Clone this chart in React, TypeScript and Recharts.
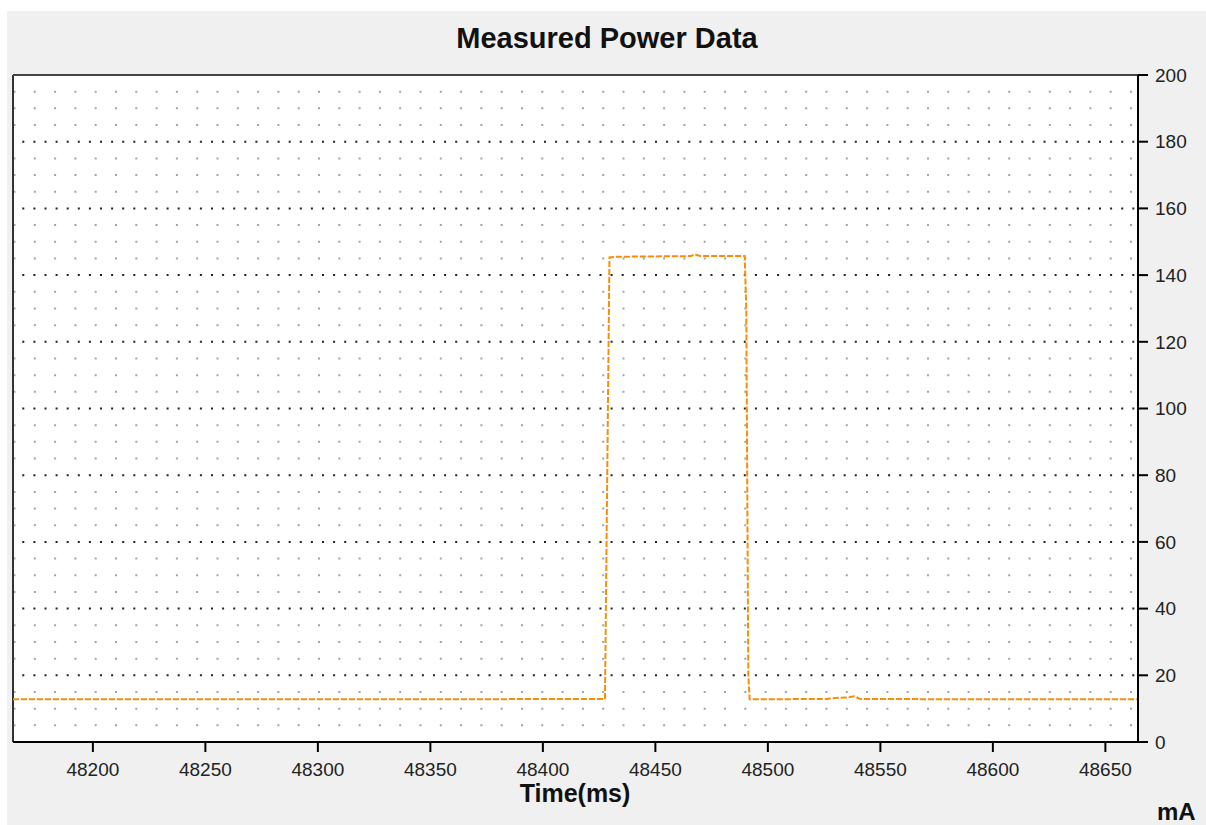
import React from 'react'
import { LineChart, Line, XAxis, YAxis, CartesianGrid, ReferenceLine } from 'recharts'

const times = [48164.5, 48250, 48330, 48427.6, 48428.6, 48429.6, 48433, 48466, 48467, 48470, 48489.7, 48490.4, 48491.3, 48491.9, 48526, 48530, 48536, 48538.5, 48541, 48600, 48664.5]
const currents = [12.8, 12.8, 12.8, 12.9, 80, 145.3, 145.5, 145.7, 146.2, 145.7, 145.7, 130, 20, 12.8, 12.9, 13.2, 13.4, 13.7, 12.9, 12.8, 12.8]

const xTicks = [48200, 48250, 48300, 48350, 48400, 48450, 48500, 48550, 48600, 48650]
const yTicks = [0, 20, 40, 60, 80, 100, 120, 140, 160, 180, 200]
const minorRows = [5, 10, 15, 25, 30, 35, 45, 50, 55, 65, 70, 75, 85, 90, 95, 105, 110, 115, 125, 130, 135, 145, 150, 155, 165, 170, 175, 185, 190, 195]

const xDomain: [number, number] = [48164.5, 48664.5]
const font = '"Liberation Sans", Arial, sans-serif'

const data = times.map((t, i) => ({ t, mA: currents[i] }))

export default function App() {
  return (
    <div style={{ position: 'absolute', left: 0, top: 0, width: 1206, height: 825, background: '#fff', overflow: 'hidden', fontFamily: font }}>
      <div style={{ position: 'absolute', left: 7, top: 11, right: 0, bottom: 0, background: '#f0f0f0' }} />
      <div style={{ position: 'absolute', left: 0, top: 0 }}>
        <LineChart width={1206} height={825} data={data} margin={{ top: 75, right: 8, bottom: 53, left: 13 }}>
          <CartesianGrid horizontal={false} vertical={false} fill="#fff" />
          {minorRows.map((v) => (
            <ReferenceLine key={'m' + v} y={v} xAxisId="x" yAxisId="y" stroke="#9aa6b4" strokeWidth={2} strokeDasharray="2 18.3" strokeDashoffset={14.3} />
          ))}
          {yTicks.slice(1, -1).map((v) => (
            <ReferenceLine key={'M' + v} y={v} xAxisId="x" yAxisId="y" stroke="#222" strokeWidth={2} strokeDasharray="2 9.1" strokeDashoffset={7.4} />
          ))}
          <ReferenceLine x={xDomain[0]} xAxisId="x" yAxisId="y" stroke="#333" strokeWidth={2} />
          <ReferenceLine y={200} xAxisId="x" yAxisId="y" stroke="#444" strokeWidth={2} />
          <XAxis
            xAxisId="x"
            dataKey="t"
            type="number"
            domain={xDomain}
            ticks={xTicks}
            allowDataOverflow
            height={30}
            tickSize={10}
            tickMargin={11}
            axisLine={{ stroke: '#000', strokeWidth: 2 }}
            tickLine={{ stroke: '#000', strokeWidth: 2 }}
            tick={{ fill: '#222', fontSize: 19, fontFamily: font }}
          />
          <XAxis
            xAxisId="xin"
            dataKey="t"
            type="number"
            domain={xDomain}
            ticks={xTicks}
            allowDataOverflow
            mirror
            tickSize={11}
            axisLine={false}
            tickLine={{ stroke: '#000', strokeWidth: 2 }}
            tick={false}
          />
          <YAxis
            yAxisId="y"
            orientation="right"
            domain={[0, 200]}
            ticks={yTicks}
            allowDataOverflow
            width={60}
            tickSize={10}
            tickMargin={7}
            axisLine={{ stroke: '#000', strokeWidth: 2 }}
            tickLine={{ stroke: '#000', strokeWidth: 2 }}
            tick={{ fill: '#222', fontSize: 19, fontFamily: font }}
          />
          <YAxis
            yAxisId="yin"
            orientation="right"
            domain={[0, 200]}
            ticks={yTicks}
            allowDataOverflow
            mirror
            tickSize={11}
            axisLine={false}
            tickLine={{ stroke: '#000', strokeWidth: 2 }}
            tick={false}
          />
          <Line
            xAxisId="x"
            yAxisId="y"
            type="linear"
            dataKey="mA"
            stroke="#ff8c00"
            strokeWidth={2}
            strokeDasharray="6 2"
            dot={false}
            isAnimationActive={false}
          />
        </LineChart>
      </div>
      <svg width={1206} height={825} style={{ position: 'absolute', left: 0, top: 0, pointerEvents: 'none' }}>
        <text x={607} y={47.5} textAnchor="middle" fontSize={29} fontWeight="bold" fontFamily={font} fill="#111">
          Measured Power Data
        </text>
        <text x={575} y={802} textAnchor="middle" fontSize={25} fontWeight="bold" fontFamily={font} fill="#111">
          Time(ms)
        </text>
        <text x={1157} y={820} fontSize={24} fontWeight="bold" fontFamily={font} fill="#111">
          mA
        </text>
      </svg>
    </div>
  )
}
